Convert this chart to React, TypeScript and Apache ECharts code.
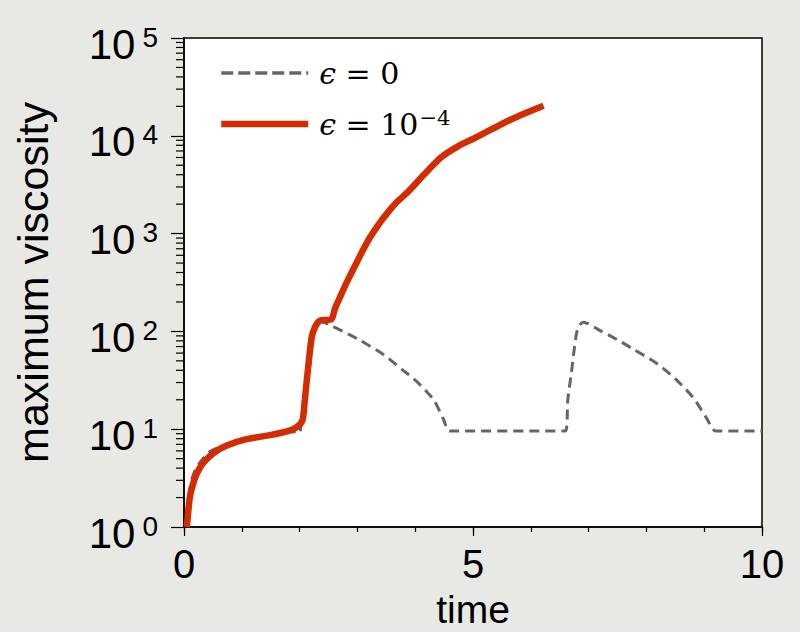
import React, { useEffect, useRef } from "react";
import * as echarts from "echarts";

// epsilon = 0 (dashed gray): [time, maximum viscosity]
const eps0Time = [0.05, 0.08, 0.13, 0.2, 0.28, 0.45, 0.74, 1.08, 1.49, 1.78, 1.95, 2.0, 2.03, 2.09, 2.15, 2.21, 2.28, 2.36, 2.5, 3.0, 3.45, 3.79, 4.02, 4.32, 4.48, 4.6, 6.6, 6.64, 6.7, 6.75, 6.79, 6.84, 6.91, 7.2, 7.5, 7.77, 8.18, 8.52, 8.81, 9.04, 9.2, 10.0];
const eps0Visc = [1, 2.0, 3.0, 3.9, 4.6, 5.9, 7.0, 7.9, 8.7, 9.3, 9.4, 9.2, 12, 20, 44, 88, 118, 127, 118, 84, 58, 40, 31, 20, 13, 9.6, 9.6, 20, 37, 65, 95, 115, 124, 102, 82, 66, 47, 32, 21, 13, 9.6, 9.6];

// epsilon = 1e-4 (solid red)
const eps4Time = [0.05, 0.1, 0.16, 0.22, 0.33, 0.51, 0.74, 1.08, 1.49, 1.78, 1.95, 2.05, 2.09, 2.15, 2.21, 2.27, 2.33, 2.38, 2.55, 2.61, 2.69, 2.84, 2.99, 3.17, 3.35, 3.53, 3.7, 3.88, 4.14, 4.45, 4.76, 5.0, 5.2, 5.4, 5.64, 5.93, 6.22];
const eps4Visc = [1, 2.0, 2.8, 3.5, 4.5, 5.7, 6.8, 7.9, 8.7, 9.5, 10.5, 12.4, 20, 44, 88, 112, 126, 130, 133, 170, 218, 340, 510, 820, 1200, 1660, 2150, 2690, 3940, 6030, 7940, 9300, 10700, 12300, 14500, 17300, 20300];

const seriesNames = ["eps0", "eps4"];
const xTickLabels = [0, 5, 10];
const minorMantissas = [2, 3, 4, 5, 6, 7, 8, 9];
const decades = [1, 10, 100, 1000, 10000];

const SANS = "'Liberation Sans', Arial, Helvetica, sans-serif";
const SERIF = "'DejaVu Serif', 'Liberation Serif', serif";

export default function App() {
  const ref = useRef<HTMLDivElement>(null);
  useEffect(() => {
    document.body.style.margin = "0";
    const chart = echarts.init(ref.current!, null, { renderer: "svg" });
    const minorTicks: number[][] = [];
    decades.forEach((d) => minorMantissas.forEach((m) => minorTicks.push([0, m * d])));

    const legendRich = {
      e: { fontFamily: SERIF, fontStyle: "italic", fontSize: 30, lineHeight: 36, color: "#000", padding: [0, 0, 0, 6] },
      t: { fontFamily: SERIF, fontSize: 30, lineHeight: 36, color: "#000" },
      s: { fontFamily: SERIF, fontSize: 21, lineHeight: 21, color: "#000", verticalAlign: "top", padding: [1, 0, 0, 1] },
    };

    chart.setOption({
      animation: false,
      backgroundColor: "#e8e8e4",
      grid: {
        left: 184,
        right: 38,
        top: 38,
        bottom: 105,
        outerBoundsMode: "none",
        containLabel: false,
        show: true,
        backgroundColor: "#ffffff",
        borderColor: "#000",
        borderWidth: 1.5,
      },
      legend: {
        left: 213,
        top: 53,
        orient: "vertical",
        itemWidth: 87,
        itemHeight: 14,
        itemGap: 18,
        selectedMode: false,
        itemStyle: { opacity: 0, borderWidth: 0 },
        data: [
          { name: seriesNames[0], itemStyle: { opacity: 0, borderWidth: 0 }, lineStyle: { width: 3.5, type: [12, 5], color: "#666666" } },
          { name: seriesNames[1], itemStyle: { opacity: 0, borderWidth: 0 }, lineStyle: { width: 6.5, type: "solid", color: "#d22c00" } },
        ],
        formatter: (name: string) =>
          name === seriesNames[0] ? "{e|ϵ}{t| = 0}" : "{e|ϵ}{t| = 10}{s|−4}",
        textStyle: { rich: legendRich },
      },
      xAxis: [
        {
          type: "value",
          min: 0,
          max: 10,
          interval: 1,
          position: "bottom",
          name: "time",
          nameLocation: "middle",
          nameGap: 63.5,
          nameTextStyle: { fontFamily: SANS, fontSize: 39, lineHeight: 38, color: "#000" },
          axisLine: { lineStyle: { color: "#000", width: 1.5 } },
          axisTick: { show: true, length: 5, lineStyle: { color: "#000", width: 1.2 } },
          axisLabel: { show: false },
          splitLine: { show: false },
        },
        {
          type: "value",
          min: 0,
          max: 10,
          interval: 5,
          position: "bottom",
          offset: 0,
          axisLine: { show: false },
          axisTick: { show: true, length: 9, lineStyle: { color: "#000", width: 1.2 } },
          axisLabel: {
            show: true,
            margin: 20.5,
            fontFamily: SANS,
            fontSize: 40,
            lineHeight: 33,
            color: "#000",
            formatter: (v: number) => (xTickLabels.includes(v) ? String(v) : ""),
          },
          splitLine: { show: false },
        },
      ],
      yAxis: {
        type: "log",
        logBase: 10,
        min: 1,
        max: 100000,
        splitNumber: 5,
        name: "maximum viscosity",
        nameLocation: "middle",
        nameGap: 130,
        nameTextStyle: { fontFamily: SANS, fontSize: 43, color: "#000" },
        axisLine: { lineStyle: { color: "#000", width: 1.5 } },
        axisTick: { show: true, length: 13, lineStyle: { color: "#000", width: 1.2 } },
        axisLabel: {
          margin: 26,
          padding: [12, 0, 0, 0],
          formatter: (v: number) => `{b|10}{s|${Math.round(Math.log10(v))}}`,
          rich: {
            b: { fontFamily: SANS, fontSize: 42, lineHeight: 42, color: "#000", verticalAlign: "bottom" },
            s: { fontFamily: SANS, fontSize: 28, lineHeight: 16, color: "#000", verticalAlign: "top", padding: [0, 0, 0, 7] },
          },
        },
        splitLine: { show: false },
      },
      series: [
        {
          name: seriesNames[0],
          type: "line",
          xAxisIndex: 0,
          symbol: "none",
          smooth: 0.25,
          lineStyle: { color: "#666666", width: 3, type: [10, 6] },
          itemStyle: { color: "#666666" },
          data: eps0Time.map((t, i) => [t, eps0Visc[i]]),
          z: 2,
        },
        {
          name: seriesNames[1],
          type: "line",
          xAxisIndex: 0,
          symbol: "none",
          smooth: 0.25,
          lineStyle: { color: "#d22c00", width: 6.5 },
          itemStyle: { color: "#d22c00" },
          data: eps4Time.map((t, i) => [t, eps4Visc[i]]),
          z: 3,
        },
        {
          name: "minorTicks",
          type: "custom",
          xAxisIndex: 0,
          silent: true,
          clip: false,
          data: minorTicks,
          renderItem: (params: any, api: any) => {
            const p = api.coord([api.value(0), api.value(1)]);
            return {
              type: "line",
              shape: { x1: p[0] - 8, y1: p[1], x2: p[0], y2: p[1] },
              style: { stroke: "#000", lineWidth: 1.2 },
            };
          },
          z: 4,
        },
      ],
    });
    return () => chart.dispose();
  }, []);
  return (
    <div
      ref={ref}
      style={{ position: "fixed", left: 0, top: 0, width: 800, height: 632 }}
    />
  );
}
